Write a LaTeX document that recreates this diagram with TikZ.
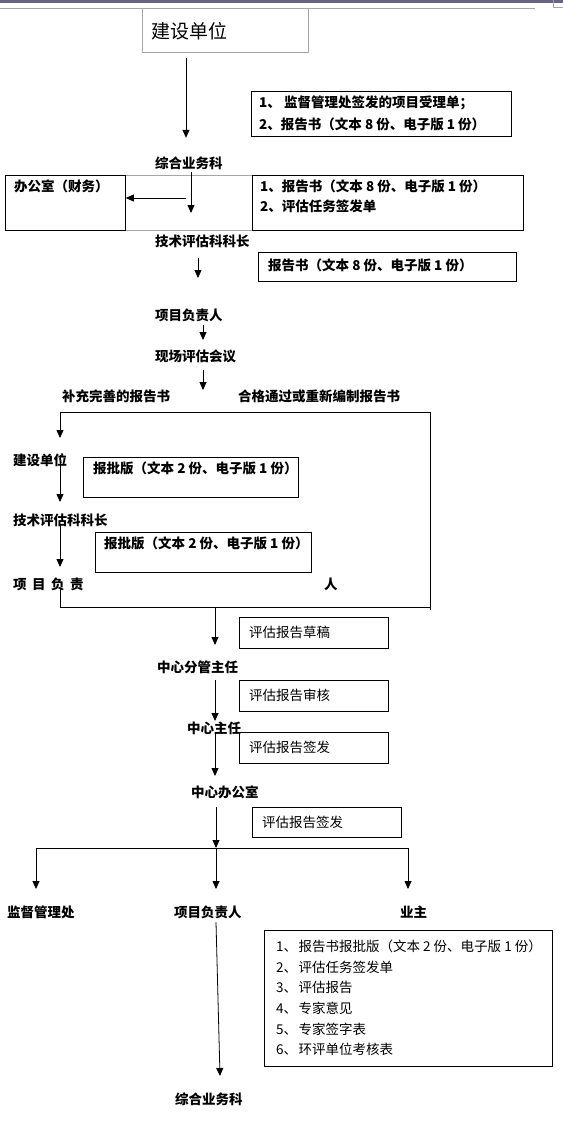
\documentclass[tikz,border=0pt]{standalone}
\usepackage{fontspec}
\setmainfont{Noto Sans CJK SC}
\usetikzlibrary{arrows.meta, positioning, calc}

\begin{document}
\begin{tikzpicture}[x=1pt, y=-1pt,
    lbl/.style={font=\bfseries\fontsize{13.5}{13.5}\selectfont, inner sep=0, anchor=west},
    bt/.style={font=\bfseries\fontsize{13.5}{21}\selectfont, inner sep=0, anchor=west, align=left},
    rt/.style={font=\fontsize{13.5}{20.6}\selectfont, inner sep=0, anchor=west, align=left},
    box/.style={draw, line width=0.8pt, anchor=north west, inner sep=0},
    a/.style={-{Triangle[length=8pt,width=7pt]}, line width=0.8pt},
]
\useasboundingbox (0,0) rectangle (563,1130);
% window edge at the top
\fill[black!55!blue!20!gray] (0,0) rectangle (563,2.5);
\draw[gray!70, line width=0.8pt] (0,8) -- (535,8);
\draw[gray!70, line width=0.6pt] (553,0) -- (553,7) -- (563,7);

% first stage
\node[box, draw=gray!70, minimum width=166pt, minimum height=44pt] (jsdw) at (142,8) {};
\node[inner sep=0, anchor=west, font=\fontsize{19}{19}\selectfont] (jsdwt) at (151,31) {建设单位};
\node[box, minimum width=260pt, minimum height=45pt] (bA) at (251,91) {};
\node[bt, font=\bfseries\fontsize{13.5}{22}\selectfont] (tA) at (259,113) {1、 监督管理处签发的项目受理单；\\2、报告书（文本 8 份、电子版 1 份）};
\node[lbl] (zhyw1) at (155,163) {综合业务科};

\node[box, minimum width=120pt, minimum height=55pt] (bgs) at (5,175) {};
\node[bt] (tgs) at (14,186) {办公室（财务）};
\node[box, minimum width=271pt, minimum height=55pt] (bB) at (252,175) {};
\node[bt, font=\bfseries\fontsize{13.5}{20}\selectfont] (tB) at (260,196) {1、报告书（文本 8 份、电子版 1 份）\\2、评估任务签发单};
\draw[gray!70, line width=0.8pt] (bgs.north east) -- (bB.north west);
\draw[gray!70, line width=0.8pt] (bgs.south east) -- (bB.south west);

\node[lbl] (jspg1) at (155,241) {技术评估科科长};
\node[box, minimum width=258pt, minimum height=29pt] (bC) at (258,252) {};
\node[bt] (tC) at (268,265) {报告书（文本 8 份、电子版 1 份）};
\node[lbl] (xmfz1) at (155,315) {项目负责人};
\node[lbl] (xcpg) at (155,356) {现场评估会议};
\node[lbl] (bcws) at (62,396) {补充完善的报告书};
\node[lbl] (hgtg) at (238,396) {合格通过或重新编制报告书};

\draw[a] ($(jsdw.south west)+(44,5)$) -- ++(0,80);
\draw[a] ($(zhyw1.west)+(36,9)$) -- ++(0,41);
\draw[a] ($(zhyw1.west)+(31,35)$) -- (bgs.east |- 0,198);
\draw[a] ($(jspg1.west)+(43,17)$) -- ++(0,20);
\draw[a] ($(xmfz1.west)+(48,10)$) -- ++(0,15);
\draw[a] ($(xcpg.west)+(48,14)$) -- ++(0,20);

% returned report loop
\coordinate (ftl) at (60,412);
\coordinate (fbr) at (430,607);
\node[lbl] (jsdw2) at (13,460) {建设单位};
\node[box, minimum width=215pt, minimum height=40pt] (bD) at (83,457) {};
\node[bt] (tD) at (93,468) {报批版（文本 2 份、电子版 1 份）};
\node[lbl] (jspg2) at (13,520) {技术评估科科长};
\node[box, minimum width=216pt, minimum height=40pt] (bE) at (95,532) {};
\node[bt] (tE) at (104,543) {报批版（文本 2 份、电子版 1 份）};
\node[lbl] (xmfz2) at (13,584) {项\hspace{5.5pt}目\hspace{5.5pt}负\hspace{5.5pt}责};
\node[lbl] (xmfz2r) at (324,584) {人};

\draw[line width=0.8pt] ([yshift=-3pt]fbr) -- (fbr |- ftl) -- (ftl);
\draw[a] (ftl) -- ++(0,26);
\draw[a] ($(jsdw2.west)+(47,-5)$) -- ++(0,47);
\draw[a] ($(jspg2.west)+(47,4)$) -- ++(0,43);
\draw[line width=0.8pt] ($(xmfz2.west)+(47,5)$) |- (fbr);

% centre sign-off
\node[box, minimum width=149pt, minimum height=31pt] (bF) at (239,617) {};
\node[rt] (tF) at (249,632) {评估报告草稿};
\node[lbl] (zxfg) at (157,667) {中心分管主任};
\node[box, minimum width=149pt, minimum height=31pt] (bG) at (239,680) {};
\node[rt] (tG) at (249,695) {评估报告审核};
\node[lbl] (zxzr) at (187,728) {中心主任};
\node[box, minimum width=149pt, minimum height=31pt] (bH) at (239,732) {};
\node[rt] (tH) at (249,747) {评估报告签发};
\node[lbl] (zxbgs) at (191,792) {中心办公室};
\node[box, minimum width=149pt, minimum height=30pt] (bI) at (252,807) {};
\node[rt] (tI) at (262,822) {评估报告签发};

\draw[a] ($(zxfg.west)+(58,-60)$) -- ++(0,38);
\draw[a] ($(zxfg.west)+(58,13)$) -- ++(0,41);
\draw[a] ($(zxzr.west)+(28,5)$) -- ++(0,43);
\draw[a] ($(zxbgs.west)+(25,15)$) -- ++(0,41);

% distribution
\coordinate (brl) at (36,848);
\coordinate (brm) at (216,848);
\coordinate (brr) at (408,848);
\draw[line width=0.8pt] (brl) -- (brr);
\foreach \c in {brl,brm,brr}
  \draw[a] (\c) -- ++(0,41);
\node[lbl] (jdgl) at (7,912) {监督管理处};
\node[lbl] (xmfz3) at (174,912) {项目负责人};
\node[lbl] (yz) at (400,912) {业主};
\node[box, minimum width=288pt, minimum height=136pt] (bJ) at (264,930) {};
\node[rt] (tJ) at (276,998) {1、\hspace{1.5pt}报告书报批版（文本 2 份、电子版 1 份）\\2、\hspace{1.5pt}评估任务签发单\\3、\hspace{1.5pt}评估报告\\4、\hspace{1.5pt}专家意见\\5、\hspace{1.5pt}专家签字表\\6、\hspace{1.5pt}环评单位考核表};
\node[lbl] (zhyw2) at (175,1099) {综合业务科};
\draw[a] ($(xmfz3.west)+(42,10)$) -- ($(zhyw2.west)+(45,-23)$);
\end{tikzpicture}
\end{document}
